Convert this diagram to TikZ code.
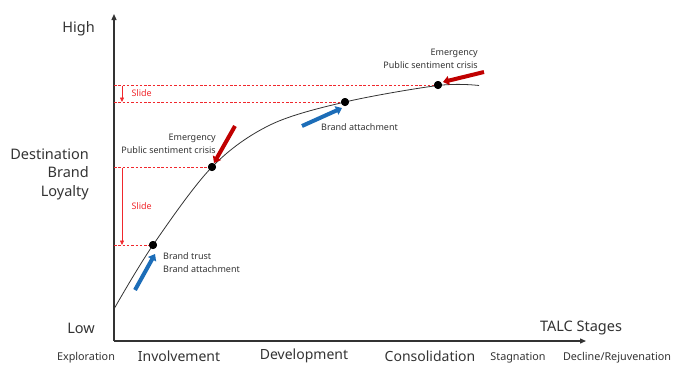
\documentclass[tikz,border=0pt]{standalone}
\usepackage{fontspec}
\setmainfont{Noto Sans}
\usetikzlibrary{arrows.meta}
\definecolor{crisisred}{HTML}{C00000}
\definecolor{guidered}{HTML}{F0282D}
\definecolor{pushblue}{HTML}{1C6DB8}
\definecolor{inkgray}{HTML}{333333}
\tikzset{
  axis/.style={line width=1.3pt, inkgray, -{Triangle[width=5pt,length=6pt]}},
  guide/.style={guidered, dashed, dash pattern=on 2.5pt off 1.8pt, line width=0.7pt},
  slidearrow/.style={guidered, line width=0.6pt, -{Triangle[width=4pt,length=4.5pt]}},
  slidetext/.style={guidered, font=\fontsize{9}{10}\selectfont, anchor=west},
  crisis/.style={crisisred, line width=4pt, -{Triangle[width=9pt,length=6pt]}},
  push/.style={pushblue, line width=4pt, -{Triangle[width=9pt,length=6pt]}},
  dot/.style={circle, fill=black, inner sep=0pt, minimum size=8pt},
  note/.style={inkgray, font=\fontsize{9}{13.5}\selectfont, inner sep=0pt},
  big/.style={inkgray, font=\fontsize{14.5}{18.5}\selectfont, inner sep=0pt},
  stage/.style={inkgray, font=\fontsize{14}{16}\selectfont, inner sep=0pt, anchor=center},
  smallstage/.style={inkgray, font=\fontsize{10.8}{13}\selectfont, inner sep=0pt, anchor=center},
}
\begin{document}
\begin{tikzpicture}[x=1pt,y=-1pt]
\useasboundingbox (0,0) rectangle (683,365);

% axes
\coordinate (origin) at (114,341);
\coordinate (ytop) at (114,14);
\coordinate (xend) at (586,341);
\draw[axis] (origin) -- (ytop);
\draw[axis] (origin) -- (xend);

% points on the loyalty curve
\node[dot] (p1) at (153,245) {};
\node[dot] (p2) at (212,167) {};
\node[dot] (p3) at (345,102) {};
\node[dot] (p4) at (438,85) {};

% dashed reference levels
\coordinate (l1) at (114,245);
\coordinate (l2) at (114,167);
\coordinate (l3) at (114,102);
\coordinate (l4) at (114,85);
\draw[guide] (l4) -- (p4.center);
\draw[guide] (l3) -- (p3.center);
\draw[guide] (l2) -- (p2.center);
\draw[guide] (l1) -- (p1.center);

% loyalty curve
\draw[inkgray, line width=0.8pt] plot[smooth, tension=0.55] coordinates {(114,309) (153,245) (212,167) (270,125) (345,102) (438,85.5) (479,85.5)};
\node[dot] at (p1) {};
\node[dot] at (p2) {};
\node[dot] at (p3) {};
\node[dot] at (p4) {};

% slides
\coordinate (s1a) at (122,86);
\coordinate (s1b) at (122,102);
\coordinate (s2a) at (122,168);
\coordinate (s2b) at (122,245);
\draw[slidearrow] (s1a) -- (s1b);
\draw[slidearrow] (s2a) -- (s2b);
\node[slidetext] (slide1) at (128,93) {Slide};
\node[slidetext] (slide2) at (128,206) {Slide};

% pushes and shocks
\coordinate (b1) at (135,290);
\coordinate (b1e) at (155,254);
\draw[push] (b1) -- (b1e);
\coordinate (b2) at (302,126);
\coordinate (b2e) at (342,108);
\draw[push] (b2) -- (b2e);
\coordinate (r1) at (235,126);
\coordinate (r1e) at (214,163);
\draw[crisis] (r1) -- (r1e);
\coordinate (r2) at (484,72);
\coordinate (r2e) at (443,82);
\draw[crisis] (r2) -- (r2e);

% annotations
\node[note, anchor=north west, align=left] (trust) at (163,252) {Brand trust\\Brand attachment};
\node[note, anchor=west] (attach) at (321,127) {Brand attachment};
\node[note, anchor=south east, align=right] (crisis1) at (216,154) {Emergency\\Public sentiment crisis};
\node[note, anchor=south east, align=right] (crisis2) at (478,69) {Emergency\\Public sentiment crisis};

% axis labels
\node[big, anchor=east] (high) at (95,29) {High};
\node[big, anchor=east] (low) at (95,328) {Low};
\node[big, anchor=east, align=right] (ylabel) at (89,174) {Destination\\Brand\\Loyalty};
\node[big, anchor=center] (xlabel) at (581,328) {TALC Stages};

% stages
\node[smallstage] (exploration) at (86,357.5) {Exploration};
\node[stage] (involvement) at (179,356) {Involvement};
\node[stage] (development) at (304,356) {Development};
\node[stage] (consolidation) at (430,356) {Consolidation};
\node[smallstage] (stagnation) at (518,357.5) {Stagnation};
\node[smallstage] (decline) at (617,357.5) {Decline/Rejuvenation};
\end{tikzpicture}
\end{document}
